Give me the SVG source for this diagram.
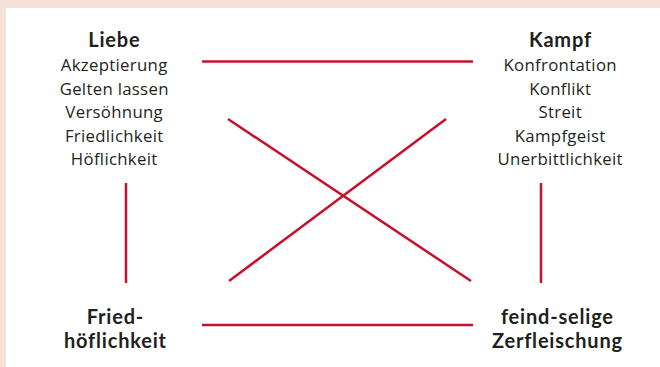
<svg xmlns="http://www.w3.org/2000/svg" width="660" height="367" viewBox="0 0 660 367">
<style>
.t{font-family:"Open Sans","Noto Sans",sans-serif;font-size:16.8px;letter-spacing:0.3px;fill:#231f20;text-anchor:middle}
.h{font-family:Lato,"Open Sans",sans-serif;font-size:20px;letter-spacing:0.8px;font-weight:bold;fill:#231f20;text-anchor:middle}
.c{stroke:#c8102e;stroke-width:2.5;fill:none}
</style>
<rect x="0" y="0" width="660" height="367" fill="#f5e1d7"/>
<rect x="6" y="8" width="654" height="359" fill="#ffffff"/>
<g id="connectors">
<line class="c" x1="202" y1="61.5" x2="473" y2="61.5"/>
<line class="c" x1="202" y1="325" x2="473" y2="325"/>
<line class="c" x1="126" y1="183" x2="126" y2="283"/>
<line class="c" x1="541" y1="183" x2="541" y2="283"/>
<line class="c" x1="228" y1="119" x2="471" y2="281"/>
<line class="c" x1="446" y1="119" x2="229" y2="281"/>
</g>
<g id="liebe">
<text class="h" x="114.4" y="47">Liebe</text>
<text class="t" x="114.2" y="71">Akzeptierung</text>
<text class="t" x="114.2" y="94.5">Gelten lassen</text>
<text class="t" x="114.2" y="118">Versöhnung</text>
<text class="t" x="114.2" y="141.5">Friedlichkeit</text>
<text class="t" x="114.2" y="165">Höflichkeit</text>
</g>
<g id="kampf">
<text class="h" x="560.4" y="47">Kampf</text>
<text class="t" x="560.2" y="71">Konfrontation</text>
<text class="t" x="560.2" y="94.5">Konflikt</text>
<text class="t" x="560.2" y="118">Streit</text>
<text class="t" x="560.2" y="141.5">Kampfgeist</text>
<text class="t" x="560.2" y="165">Unerbittlichkeit</text>
</g>
<g id="friedhoeflichkeit">
<text class="h" x="115.4" y="324">Fried-</text>
<text class="h" x="115.4" y="348">höflichkeit</text>
</g>
<g id="feindselige">
<text class="h" x="557.4" y="324">feind-selige</text>
<text class="h" x="557.4" y="348">Zerfleischung</text>
</g>
</svg>
